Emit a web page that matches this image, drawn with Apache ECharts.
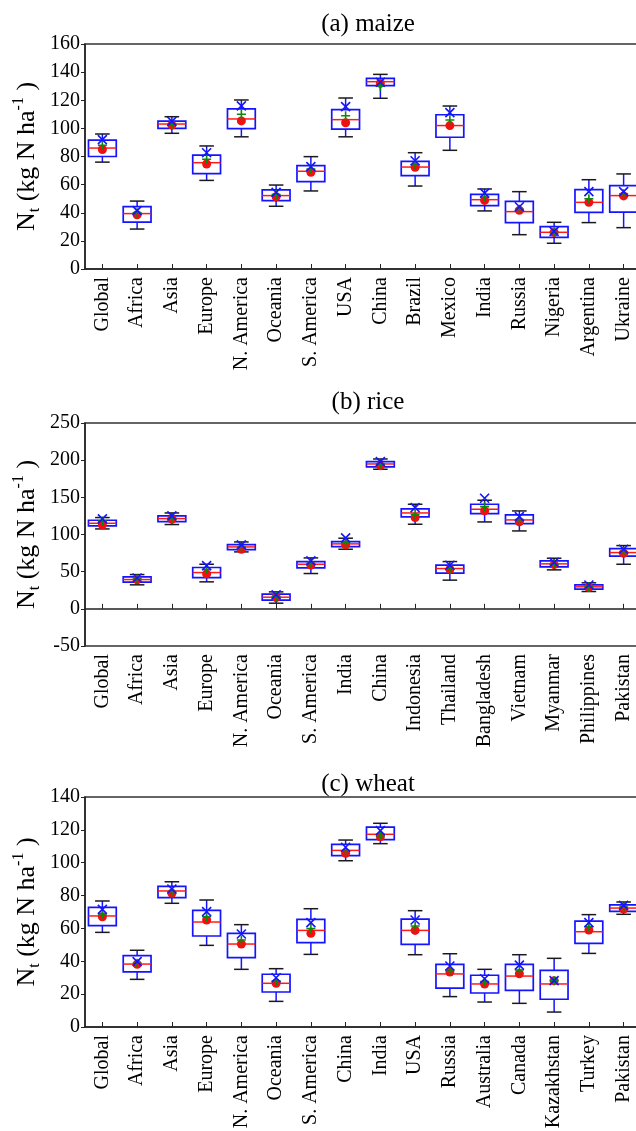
<!DOCTYPE html>
<html>
<head>
<meta charset="utf-8">
<script src="https://cdn.jsdelivr.net/npm/echarts@6/dist/echarts.min.js"></script>
<style>
  html, body { margin: 0; padding: 0; background: #fff; }
  #chart { width: 636px; height: 1131px; }
</style>
</head>
<body>
<div id="chart"></div>
<script>
// Nitrogen rate distributions per region / country, three crops.
// Box rows are [lower whisker, Q1, median, Q3, upper whisker].

const maizeCategories = ['Global', 'Africa', 'Asia', 'Europe', 'N. America', 'Oceania', 'S. America',
  'USA', 'China', 'Brazil', 'Mexico', 'India', 'Russia', 'Nigeria', 'Argentina', 'Ukraine'];
const maizeBoxes = [
  [76, 80, 86, 91.7, 96], [28.4, 33.4, 39.4, 44.3, 48.3], [96.5, 100, 103.1, 105.2, 108.3],
  [63, 67.8, 75.6, 81, 87.5], [94, 99.8, 106.7, 113.8, 120.2], [44.6, 48.6, 52.2, 56.2, 59.7],
  [55.5, 62.1, 69.5, 73.5, 79.9], [94, 99.4, 106.2, 113.3, 121.6], [121.4, 130.4, 133.2, 135.6, 138.4],
  [59, 66.4, 72.5, 76.6, 82.7], [84.4, 93.7, 102, 109.7, 115.9], [41.3, 45, 49.3, 53.1, 56.9],
  [24.4, 33, 40.8, 48.1, 55], [18.3, 22.5, 26.1, 30.1, 33.2], [33, 40.3, 47.4, 56.4, 63.5],
  [29.4, 40.5, 52.2, 59.3, 67.6]
];
const maizeDot = [85, 38.6, 102.4, 74.7, 105.3, 51.4, 68.8, 104, 132, 72.3, 102, 48.8, 41.7, 26, 47.4, 52];
const maizePlus = [88, 40, 103, 78, 110, 53, 71, 109, 130, 74, 106, 51, 42.5, 26.5, 50, 53.5];
const maizeCross = [92, 41.5, 105, 82.7, 116, 54.5, 72.8, 115.5, 132.8, 77, 111.2, 54, 44.3, 26.8, 55, 55];

const riceCategories = ['Global', 'Africa', 'Asia', 'Europe', 'N. America', 'Oceania', 'S. America',
  'India', 'China', 'Indonesia', 'Thailand', 'Bangladesh', 'Vietnam', 'Myanmar', 'Philippines', 'Pakistan'];
const riceBoxes = [
  [107.5, 111.6, 115.1, 119.2, 122.8], [32.3, 35.8, 39.4, 43, 46.1], [113.4, 117.4, 121.4, 125, 129],
  [36.3, 42.1, 48.8, 55.6, 60], [76.6, 79.7, 83.3, 86.5, 90], [7.6, 11.6, 15.7, 19.7, 22.8],
  [47.5, 55.1, 60, 63.6, 68.5], [80.2, 83.8, 87.4, 90.5, 95], [187.8, 190.9, 194.9, 198, 201.6],
  [113.8, 123.7, 129, 134.4, 140.7], [38.6, 48, 54.2, 58.7, 63.6], [116.9, 128.1, 134, 140.7, 146.1],
  [104.8, 114.7, 119.6, 126.3, 131.7], [52.4, 56.5, 60.5, 64.5, 68.1], [23.3, 26.4, 29.6, 32.3, 35],
  [60, 70.8, 75.7, 81.1, 85.1]
];
const riceDot = [112.9, 39, 120.5, 47, 80.2, 15.2, 59, 86, 192.6, 122.8, 53, 131.7, 117, 59.5, 28.7, 74.8];
const ricePlus = [118, 40, 122, 53, 83, 16.5, 61, 89, 195, 127, 54, 137.5, 120, 60.5, 30, 77];
const riceCross = [121, 41.5, 125, 58.2, 86, 18.8, 64.5, 95.4, 198, 136.2, 58.7, 148.8, 124, 62.5, 32, 80.2];

const wheatCategories = ['Global', 'Africa', 'Asia', 'Europe', 'N. America', 'Oceania', 'S. America',
  'China', 'India', 'USA', 'Russia', 'Australia', 'Canada', 'Kazakhstan', 'Turkey', 'Pakistan'];
const wheatBoxes = [
  [57.6, 61.7, 67.6, 72.8, 76.7], [29, 33.5, 38.3, 43.4, 46.7], [75.3, 78.7, 82.8, 85.6, 88.4],
  [49.7, 55.4, 63.9, 71, 77.3], [35.1, 42.2, 50.5, 57, 62.3], [15.6, 21.3, 26.6, 32.1, 35.5],
  [44.2, 51.3, 58.8, 65.5, 72], [101.2, 104.3, 107.5, 111.2, 113.8], [111.6, 114, 117.3, 121.7, 124],
  [44, 50.3, 58.8, 65.7, 70.8], [18.5, 23.7, 32.3, 38.1, 44.6], [15.2, 20.7, 26.2, 31.5, 35.1],
  [14.4, 22.3, 31, 38.1, 44], [9.1, 16.9, 26.2, 34.5, 41.8], [44.8, 50.9, 58, 64.5, 68.4],
  [68.6, 70.4, 72.4, 74.3, 76.1]
];
const wheatDot = [67.1, 38.2, 81.4, 65.1, 50.5, 26.6, 57, 105.7, 115.8, 58.8, 33.5, 26.1, 32.4, 28.2, 59, 71.8];
const wheatPlus = [68.8, 38.8, 82.4, 67.1, 53, 28, 60, 107, 116.5, 61.5, 34.7, 27.6, 34.7, 28.2, 61, 73];
const wheatCross = [71.6, 39.8, 84, 70.2, 56.6, 30, 63.5, 109.4, 119.5, 65.1, 37.1, 29.4, 37.7, 28.2, 63.5, 74];

const panelTitles = ['(a) maize', '(b) rice', '(c) wheat'];
const yRanges = [[0, 160, 20], [-50, 250, 50], [0, 140, 20]];

const SERIF = '"Liberation Serif", "Times New Roman", "DejaVu Serif", serif';
const panels = [
  { cats: maizeCategories, boxes: maizeBoxes, dot: maizeDot, plus: maizePlus, cross: maizeCross, top: 44, height: 225, titleTop: 7 },
  { cats: riceCategories, boxes: riceBoxes, dot: riceDot, plus: ricePlus, cross: riceCross, top: 423, height: 223, titleTop: 385 },
  { cats: wheatCategories, boxes: wheatBoxes, dot: wheatDot, plus: wheatPlus, cross: wheatCross, top: 797, height: 230, titleTop: 767 }
];

// Box, whiskers, caps and median drawn in their own colours.
function renderBox(params, api) {
  const i = api.value(0);
  const x = api.coord([i, api.value(3)])[0];
  const yLow = api.coord([i, api.value(1)])[1];
  const yQ1 = api.coord([i, api.value(2)])[1];
  const yMed = api.coord([i, api.value(3)])[1];
  const yQ3 = api.coord([i, api.value(4)])[1];
  const yHigh = api.coord([i, api.value(5)])[1];
  const band = api.size([1, 0])[0];
  const bw = band * 0.8;
  const cw = band * 0.42;
  const blue = '#1414ff';
  const capColor = '#1a1a1a';
  return {
    type: 'group',
    children: [
      { type: 'line', shape: { x1: x, y1: yQ3, x2: x, y2: yHigh }, style: { stroke: blue, lineWidth: 1.5 } },
      { type: 'line', shape: { x1: x, y1: yQ1, x2: x, y2: yLow }, style: { stroke: blue, lineWidth: 1.5 } },
      { type: 'line', shape: { x1: x - cw / 2, y1: yHigh, x2: x + cw / 2, y2: yHigh }, style: { stroke: capColor, lineWidth: 1.5 } },
      { type: 'line', shape: { x1: x - cw / 2, y1: yLow, x2: x + cw / 2, y2: yLow }, style: { stroke: capColor, lineWidth: 1.5 } },
      { type: 'rect', shape: { x: x - bw / 2, y: yQ3, width: bw, height: yQ1 - yQ3 },
        style: { fill: '#ffffff', stroke: blue, lineWidth: 1.7 } },
      { type: 'line', shape: { x1: x - bw / 2, y1: yMed, x2: x + bw / 2, y2: yMed }, style: { stroke: '#ff1a1a', lineWidth: 1.5 } }
    ]
  };
}

const PLUS_PATH = 'path://M0,5L10,5M5,0L5,10';
const CROSS_PATH = 'path://M0,0L10,10M10,0L0,10';

const grid = [], xAxis = [], yAxis = [], series = [], title = [];
panels.forEach((p, k) => {
  grid.push({ left: 85, width: 556, top: p.top, height: p.height, show: true,
    borderColor: '#333', borderWidth: 1.5, backgroundColor: 'transparent', outerBoundsMode: 'none' });
  title.push({ text: panelTitles[k], left: 363, textAlign: 'center', top: p.titleTop,
    textStyle: { fontFamily: SERIF, fontSize: 25, fontWeight: 'normal', color: '#000' } });
  xAxis.push({
    type: 'category', gridIndex: k, data: p.cats, boundaryGap: true,
    axisLine: { show: true, lineStyle: { color: '#222', width: 1.5 } },
    axisTick: { show: true, inside: true, length: 5, alignWithLabel: true, lineStyle: { color: '#222' } },
    axisLabel: { interval: 0, rotate: 90, margin: 8, fontFamily: SERIF, fontSize: 20, color: '#000' },
    splitLine: { show: false }
  });
  const r = yRanges[k];
  yAxis.push({
    type: 'value', gridIndex: k, min: r[0], max: r[1], interval: r[2],
    name: '{n|N}{s|t}{n| (kg N ha}{p|-1}{n| )}',
    nameLocation: 'middle', nameRotate: 90, nameGap: 42, nameMoveOverlap: false,
    nameTextStyle: {
      fontFamily: SERIF, fontSize: 26, color: '#000',
      rich: {
        n: { fontFamily: SERIF, fontSize: 26, lineHeight: 32, color: '#000' },
        s: { fontFamily: SERIF, fontSize: 16, lineHeight: 16, verticalAlign: 'bottom', color: '#000' },
        p: { fontFamily: SERIF, fontSize: 16, lineHeight: 16, verticalAlign: 'top', color: '#000' }
      }
    },
    axisLine: { show: true, lineStyle: { color: '#222', width: 1.5 } },
    axisTick: { show: true, inside: false, length: 4, lineStyle: { color: '#222' } },
    axisLabel: { margin: 5, fontFamily: SERIF, fontSize: 20, color: '#000' },
    splitLine: { show: false }
  });
  series.push({
    type: 'custom', xAxisIndex: k, yAxisIndex: k, renderItem: renderBox,
    encode: { x: 0, y: [1, 2, 3, 4, 5] },
    data: p.boxes.map((b, i) => [i].concat(b)), z: 2
  });
  series.push({
    type: 'scatter', xAxisIndex: k, yAxisIndex: k, symbol: 'circle', symbolSize: 9,
    itemStyle: { color: '#f01010', opacity: 1 }, z: 3,
    data: p.dot.map((v, i) => [i, v])
  });
  series.push({
    type: 'scatter', xAxisIndex: k, yAxisIndex: k, symbol: PLUS_PATH, symbolSize: 9,
    itemStyle: { color: 'none', borderColor: '#0a8a0a', borderWidth: 1.6, opacity: 1 }, z: 4,
    data: p.plus.map((v, i) => [i, v])
  });
  series.push({
    type: 'scatter', xAxisIndex: k, yAxisIndex: k, symbol: CROSS_PATH, symbolSize: 9,
    itemStyle: { color: 'none', borderColor: '#1414ff', borderWidth: 1.6, opacity: 1 }, z: 5,
    data: p.cross.map((v, i) => [i, v])
  });
});

const chart = echarts.init(document.getElementById('chart'), null, { renderer: 'canvas' });
chart.setOption({ animation: false, backgroundColor: '#fff', title, grid, xAxis, yAxis, series });
</script>
</body>
</html>
